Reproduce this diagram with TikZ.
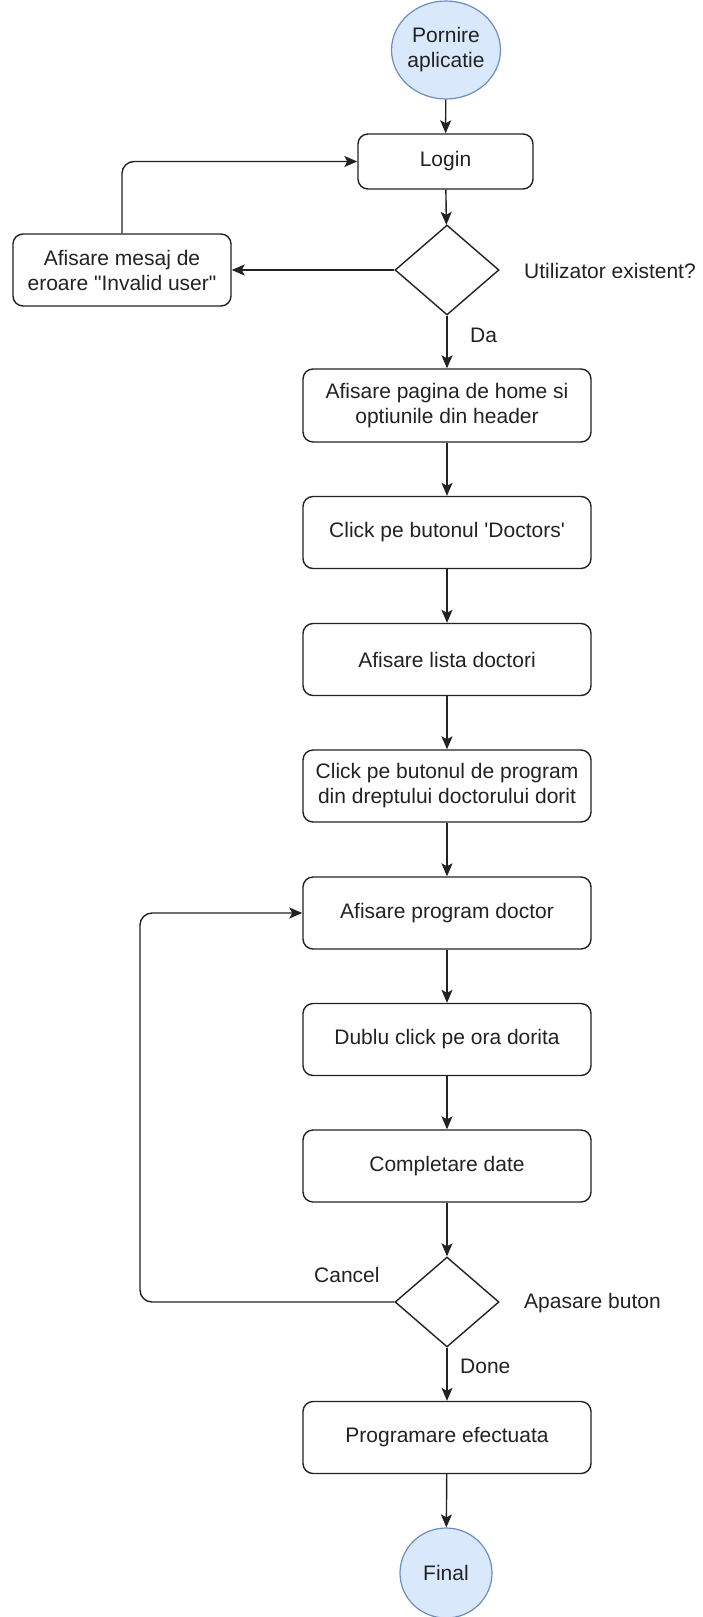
\documentclass[tikz,border=0pt]{standalone}
\usepackage{fontspec}
\setmainfont{Liberation Sans}
\usetikzlibrary{arrows.meta,shapes.geometric}
\definecolor{termfill}{HTML}{DAE8FC}
\definecolor{termline}{HTML}{6C8EBF}
\definecolor{ink}{HTML}{222222}
\tikzset{
  every node/.style={font=\fontsize{21}{25}\selectfont, text=ink},
  stepbox/.style={draw=ink, line width=1.4pt, rounded corners=10pt,
    minimum width=288pt, minimum height=72pt, align=center, inner sep=0pt},
  terminal/.style={ellipse, draw=termline, fill=termfill, line width=1.2pt,
    minimum width=92pt, minimum height=98pt, inner sep=0pt, align=center},
  decision/.style={diamond, draw=ink, line width=1.4pt,
    minimum width=104pt, minimum height=90pt, inner sep=0pt},
  flow/.style={-{Stealth[length=13pt,width=11pt,inset=3pt]}, line width=1.4pt, draw=ink},
  lbl/.style={anchor=west, inner sep=0pt}
}
\begin{document}
\begin{tikzpicture}[x=1pt,y=-1pt]
  \useasboundingbox (0,0) rectangle (702,1617);

  % main column
  \node[terminal] (start) at (446,50) {Pornire\\aplicatie};
  \node[stepbox, minimum width=175pt, minimum height=55pt] (login) at (445.5,161.5) {Login};
  \node[decision] (dec1) at (447,270) {};
  \node[stepbox, minimum width=218pt] (err) at (122,270) {Afisare mesaj de\\eroare \textquotedbl Invalid user\textquotedbl};
  \node[stepbox, minimum height=73pt] (home) at (447,405.5) {Afisare pagina de home si\\optiunile din header};
  \node[stepbox] (doctors) at (447,532.5) {Click pe butonul \textquotesingle Doctors\textquotesingle};
  \node[stepbox] (lista) at (447,659.5) {Afisare lista doctori};
  \node[stepbox] (prog) at (447,786) {Click pe butonul de program\\din dreptului doctorului dorit};
  \node[stepbox] (progdoc) at (447,913) {Afisare program doctor};
  \node[stepbox] (dublu) at (447,1039.5) {Dublu click pe ora dorita};
  \node[stepbox] (date) at (447,1166) {Completare date};
  \node[decision] (dec2) at (447,1302) {};
  \node[stepbox] (done) at (447,1437.5) {Programare efectuata};
  \node[terminal, minimum height=90pt] (final) at (446,1573) {Final};

  % labels
  \node[lbl] (q1) at (524,271) {Utilizator existent?};
  \node[lbl] (da) at (470,335) {Da};
  \node[lbl] (cancel) at (314,1275) {Cancel};
  \node[lbl] (q2) at (524,1303) {Apasare buton};
  \node[lbl] (doneL) at (460,1366) {Done};

  % connectors
  \draw[flow] (start) -- (login);
  \draw[flow] (login) -- (dec1);
  \draw[flow] (dec1.west) -- (err.east);
  \draw[flow, rounded corners=12pt] (err.north) |- (login.west);
  \draw[flow] (dec1) -- (home);
  \draw[flow] (home) -- (doctors);
  \draw[flow] (doctors) -- (lista);
  \draw[flow] (lista) -- (prog);
  \draw[flow] (prog) -- (progdoc);
  \draw[flow] (progdoc) -- (dublu);
  \draw[flow] (dublu) -- (date);
  \draw[flow] (date) -- (dec2);
  \draw[flow, rounded corners=12pt] (dec2.west) -- (140,1302) |- (progdoc.west);
  \draw[flow] (dec2) -- (done);
  \draw[flow] (done) -- (final);
\end{tikzpicture}
\end{document}
